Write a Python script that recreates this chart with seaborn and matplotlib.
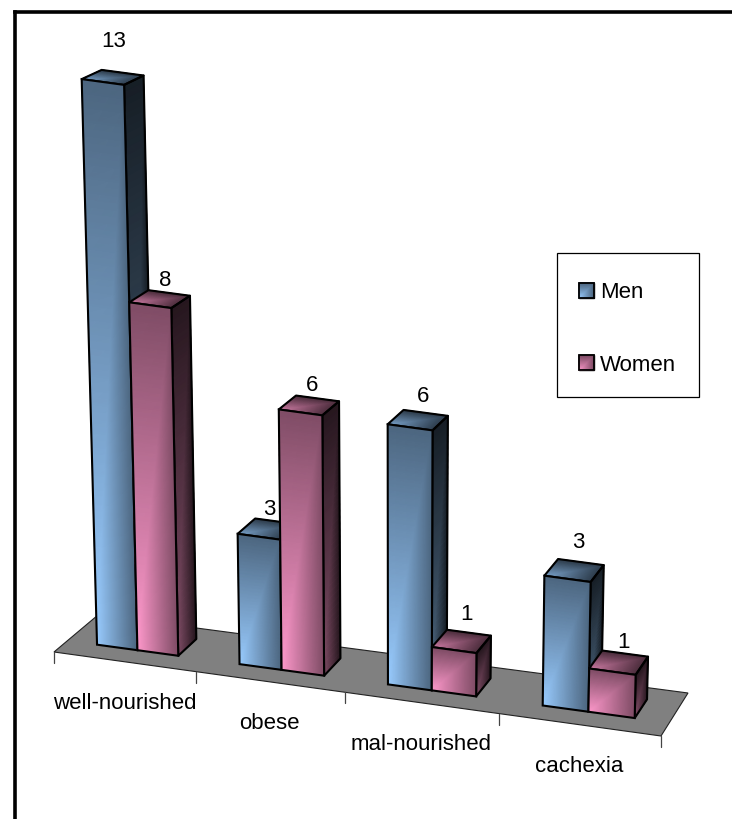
import numpy as np
import pandas as pd
import matplotlib
matplotlib.use("Agg")
import matplotlib.pyplot as plt
import seaborn as sns
from matplotlib.collections import QuadMesh
from matplotlib.colors import Normalize
from matplotlib.patches import Patch, Polygon, Rectangle
from matplotlib.transforms import Affine2D, Transform

# Chart values
categories = ["well-nourished", "obese", "mal-nourished", "cachexia"]
men = [13, 3, 6, 3]
women = [8, 6, 1, 1]
series_names = ["Men", "Women"]
series_light = {"Men": "#99CCFF", "Women": "#FF99CC"}

# Value label nudges relative to the centre of each bar's top (pixels)
label_nudge = {
    "Men": [(1, -36), (2, -19), (5, -24), (4, -28)],
    "Women": [(5, -18.5), (3, -20), (5, -27), (5, -20)],
}

WIDTH, HEIGHT = 732, 819
sns.set_theme(style="white")
plt.rcParams["font.family"] = ["Liberation Sans", "DejaVu Sans"]
plt.rcParams["text.color"] = "black"
FONT = 16

# Perspective camera: floor quad corners and the point vertical edges converge to
FLOOR = np.array([[54, 652], [661, 736], [688, 693], [98, 615]], float)
N_CATS = len(categories)
VANISH = np.array([400.0, 11800.0])
RISE = 0.0039
DEPTH_FRONT, DEPTH_BACK = 0.30, 0.74
# Depth foreshortens as the eye level is approached higher up the bars
SQUASH = 1.4


def floor_homography(q):
    (x0, y0), (x1, y1), (x2, y2), (x3, y3) = q
    dx1, dy1 = x1 - x2, y1 - y2
    dx2, dy2 = x3 - x2, y3 - y2
    sx, sy = x0 - x1 + x2 - x3, y0 - y1 + y2 - y3
    den = dx1 * dy2 - dy1 * dx2
    g = (sx * dy2 - sy * dx2) / den
    h = (dx1 * sy - dy1 * sx) / den
    return np.array([
        [x1 - x0 + g * x1, x3 - x0 + h * x3, x0],
        [y1 - y0 + g * y1, y3 - y0 + h * y3, y0],
        [g, h, 1.0],
    ])


H = floor_homography(FLOOR)


def project(u, d, v):
    """Map slot position u, floor depth d and bar value v to pixel coordinates."""
    u, d, v = np.broadcast_arrays(np.asarray(u, float), np.asarray(d, float), np.asarray(v, float))
    s = u / N_CATS
    w = H[2, 0] * s + H[2, 1] * d + H[2, 2]
    x = (H[0, 0] * s + H[0, 1] * d + H[0, 2]) / w
    y = (H[1, 0] * s + H[1, 1] * d + H[1, 2]) / w
    k = RISE * v
    return x + (x - VANISH[0]) * k, y + (y - VANISH[1]) * k + SQUASH * (d - DEPTH_FRONT) * v


screen = Affine2D().scale(1, -1).translate(0, HEIGHT)


class FaceProjection(Transform):
    """Sends (category position, value) in the bar plane at a given floor depth to pixels."""
    input_dims = output_dims = 2
    is_affine = False
    has_inverse = False

    def __init__(self, floor_depth):
        super().__init__()
        self.floor_depth = floor_depth

    def transform_non_affine(self, values):
        values = np.asarray(values, float)
        x, y = project(values[:, 0] + 0.5, self.floor_depth, values[:, 1])
        return np.column_stack([x, y])


def shade(colour, factor):
    return tuple(c * factor for c in matplotlib.colors.to_rgb(colour))


def gradient_mesh(ax, X, Y, c_light, c_dark, z):
    """Corner gradient: brightest at the s=t=0 corner, darkest along the far edges."""
    n, m = X.shape
    s, t = np.meshgrid(np.linspace(0, 1, m), np.linspace(0, 1, n))
    cmap = sns.blend_palette([c_light, c_dark], as_cmap=True)
    mesh = QuadMesh(np.dstack([X, Y]), shading="gouraud", array=np.maximum(s, t).ravel(),
                    cmap=cmap, norm=Normalize(0, 1), transform=screen, zorder=z)
    ax.add_collection(mesh, autolim=False)


def gradient_face(ax, X, Y, light, f_light, f_dark, z):
    gradient_mesh(ax, X, Y, shade(light, f_light), shade(light, f_dark), z)


def outline(ax, pts, z):
    ax.add_patch(Polygon(pts, closed=True, fill=False, edgecolor="black", linewidth=1.5,
                         joinstyle="round", transform=screen, zorder=z))


records = pd.DataFrame({
    "Category": categories * 2,
    "Sex": np.repeat(series_names, N_CATS),
    "Count": men + women,
})

fig = plt.figure(figsize=(WIDTH / 100, HEIGHT / 100), dpi=100, facecolor="white")
ax = fig.add_axes([14.8 / WIDTH, 0, 1 - 14.8 / WIDTH, 1 - 11.5 / HEIGHT])

sns.barplot(data=records, x="Category", y="Count", hue="Sex", hue_order=series_names,
            order=categories, width=0.575, gap=0, legend=False, ax=ax)
sns.despine(ax=ax, top=False, right=True, bottom=True, left=False)
for name in ("left", "top"):
    ax.spines[name].set_color("black")
    ax.spines[name].set_linewidth(2.6)
ax.set_xlabel("")
ax.set_ylabel("")
ax.set_xticks([])
ax.set_yticks([])

# Floor and its category ticks
corners = project([0, N_CATS, N_CATS, 0], [0, 0, 1, 1], 0)
ax.add_patch(Polygon(np.column_stack(corners), closed=True, facecolor="#808080",
                     edgecolor="#222222", linewidth=0.8, transform=screen, zorder=1))
for i in range(N_CATS + 1):
    tx, ty = project(i, 0, 0)
    ax.plot([float(tx), float(tx)], [float(ty), float(ty) + 11], color="#444444", lw=0.9,
            transform=screen, zorder=1)
for i, name in enumerate(categories):
    lx, ly = project(i + 0.5, 0, 0)
    ax.text(float(lx), float(ly) + 41.5, name, ha="center", va="center", fontsize=FONT,
            color="black", transform=screen, zorder=40)

# Bars, back to front: side and top gradients behind the seaborn rectangle as front face
front_tf = FaceProjection(DEPTH_FRONT) + screen
grid = np.linspace(0, 1, 41)
for h_idx, name in enumerate(series_names):
    light = series_light[name]
    for c_idx, bar in enumerate(ax.containers[h_idx]):
        u0 = bar.get_x() + 0.5
        u1 = u0 + bar.get_width()
        val = bar.get_height()
        z = 2 + c_idx * 4 + h_idx * 1.5

        ss, tt = np.meshgrid(grid, grid)
        # side face
        X, Y = project(u1, DEPTH_FRONT + ss * (DEPTH_BACK - DEPTH_FRONT), tt * val)
        gradient_face(ax, X, Y, light, 0.5, 0.15, z)
        outline(ax, np.column_stack(project(u1, [DEPTH_FRONT, DEPTH_BACK, DEPTH_BACK, DEPTH_FRONT],
                                            [0, 0, val, val])), z + 0.2)
        # top face
        X, Y = project(u0 + ss * (u1 - u0), DEPTH_FRONT + tt * (DEPTH_BACK - DEPTH_FRONT), val)
        gradient_face(ax, X, Y, light, 0.8, 0.3, z)
        outline(ax, np.column_stack(project([u0, u1, u1, u0],
                                            [DEPTH_FRONT, DEPTH_FRONT, DEPTH_BACK, DEPTH_BACK],
                                            val)), z + 0.2)
        # front face
        X, Y = project(u0 + ss * (u1 - u0), DEPTH_FRONT, tt * val)
        gradient_face(ax, X, Y, light, 1.0, 0.5, z + 0.3)
        bar.set_transform(front_tf)
        bar.set_facecolor("none")
        bar.set_edgecolor("black")
        bar.set_linewidth(1.5)
        bar.set_zorder(z + 0.4)

        cx, cy = project((u0 + u1) / 2, (DEPTH_FRONT + DEPTH_BACK) / 2, val)
        dx, dy = label_nudge[name][c_idx]
        ax.text(float(cx) + dx, float(cy) + dy, f"{val:g}", ha="center", va="center",
                fontsize=FONT, color="black", transform=screen, zorder=40)

# Legend: a fixed frame, with entries and gradient swatches inside it
ax.add_patch(Rectangle((556.5, 253), 142, 144, facecolor="white", edgecolor="black",
                       linewidth=0.9, transform=screen, zorder=49))
handles = [Patch(facecolor=series_light[n], edgecolor="black", label=n) for n in series_names]
leg = ax.legend(handles=handles, loc="upper left", bbox_to_anchor=(579, 282),
                bbox_transform=screen, frameon=False, borderaxespad=0, borderpad=0,
                fontsize=FONT, labelcolor="black", handlelength=0.68, handleheight=0.68,
                handletextpad=0.25, labelspacing=2.32)
leg.set_zorder(50)
ax.set_xlim(-0.5, N_CATS - 0.5)
ax.set_ylim(0, 14)
fig.canvas.draw()
for n, handle in zip(series_names, leg.legend_handles):
    box = handle.get_window_extent()
    x0, x1 = box.x0, box.x1
    y0, y1 = HEIGHT - box.y0, HEIGHT - box.y1
    s, t = np.meshgrid(np.linspace(0, 1, 21), np.linspace(0, 1, 21))
    gradient_mesh(ax, x0 + s * (x1 - x0), y0 + t * (y1 - y0), series_light[n],
                  shade(series_light[n], 0.5), 51)
    ax.add_patch(Rectangle((x0, y1), x1 - x0, y0 - y1, fill=False, edgecolor="black",
                           linewidth=1.3, transform=screen, zorder=52))

fig.savefig("out.png", dpi=100)
